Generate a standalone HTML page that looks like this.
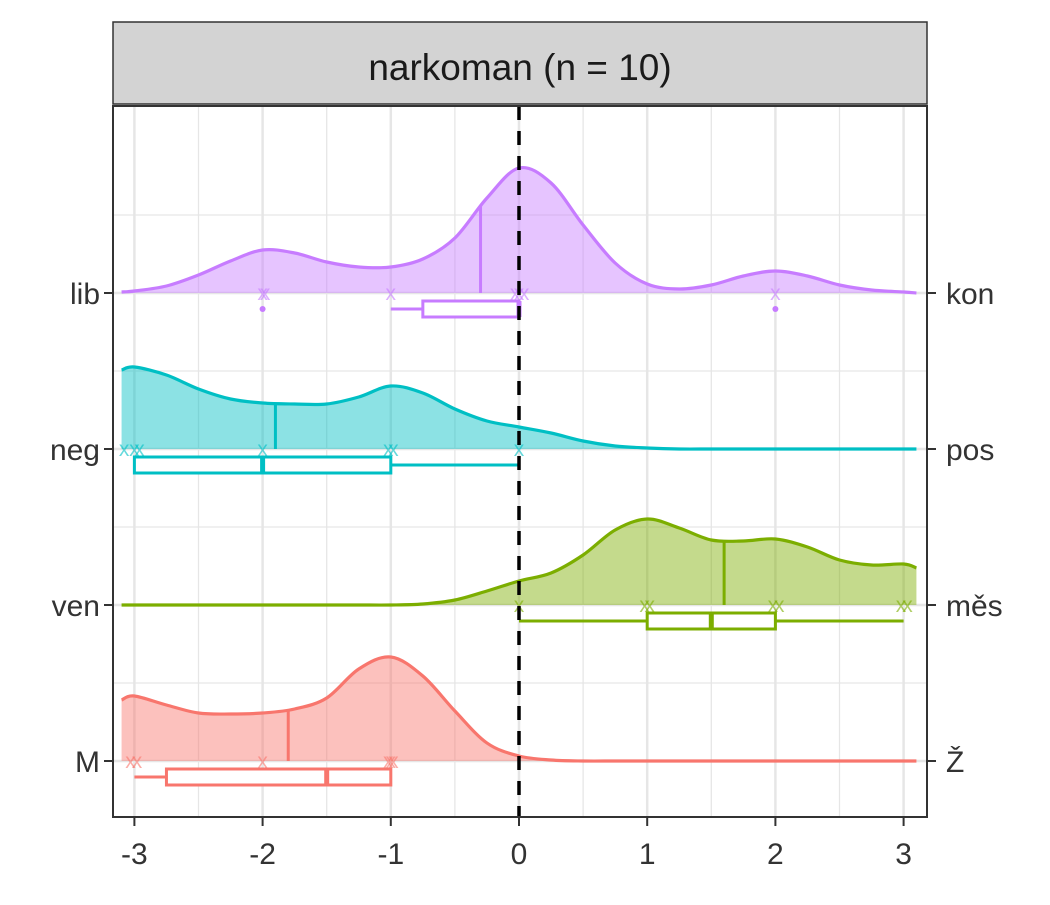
<!DOCTYPE html>
<html><head><meta charset="utf-8"><style>
body{margin:0;background:#fff;}
text{font-family:"Liberation Sans",sans-serif;}
</style></head><body>
<svg id="chart" width="1050" height="900" viewBox="0 0 1050 900" xmlns="http://www.w3.org/2000/svg">
<rect x="113" y="22" width="814" height="82" fill="#d3d3d3" stroke="#333" stroke-width="1.5"/>
<text x="520" y="80" font-size="37" text-anchor="middle" fill="#1a1a1a">narkoman (n = 10)</text>
<g id="grid"></g>
<g id="marks"></g>
<rect x="113" y="106" width="814" height="711" fill="none" stroke="#333" stroke-width="2"/>
<g id="axes"></g>
</svg>
<script>
const xsGrid = [-3.1,-3,-2.75,-2.5,-2.25,-2,-1.75,-1.5,-1.25,-1,-0.75,-0.5,-0.25,0,0.25,0.5,0.75,1,1.25,1.5,1.75,2,2.25,2.5,2.75,3,3.1];
const categoriesLeft = ["M","ven","neg","lib"];
const categoriesRight = ["Ž","měs","pos","kon"];
const colors = ["#F8766D","#7CAE00","#00BFC4","#C77CFF"];
const densM   = [61,65,56,48,47,48,52,63,92,104,85,50,18,5,1,0,0,0,0,0,0,0,0,0,0,0,0];
const densVen = [0,0,0,0,0,0,0,0,0,0,1,5,14,24,32,50,75,86,77,65,64,66,58,45,40,41,37];
const densNeg = [79,82,74,60,50,46,45,45,52,63,56,40,28,22,16,8,3,1,0,0,0,0,0,0,0,0,0];
const densLib = [1,2,7,18,32,43,40,31,26,26,34,55,95,125,110,68,30,9,4,8,17,22,17,8,3,1,0];
const densities = [densM,densVen,densNeg,densLib];
const medians = [-1.8,1.6,-1.9,-0.3];
const boxLow = [-2.75,1,-3,-0.75];
const boxMid = [-1.5,1.5,-2,0];
const boxHigh = [-1,2,-1,0];
const whiskLow = [-3,0,-3,-1];
const whiskHigh = [-1,3,0,0];
const outliers = [[],[],[],[-2,2]];
const pointsM = [-3.03,-2.98,-2,-1.02,-0.98,-1];
const pointsVen = [0,0.98,1.02,1.98,2.03,2.98,3.03];
const pointsNeg = [-3.08,-3,-2.96,-2,-1.02,-0.98,0];
const pointsLib = [-2,-1.98,-1,-0.03,0,0.04,2];
const points = [pointsM,pointsVen,pointsNeg,pointsLib];
const xTicks = [-3,-2,-1,0,1,2,3];

const NS="http://www.w3.org/2000/svg";
const X = v => 519 + v*128.2;
const Y = i => 761 - i*156;
function mk(tag, attrs, parent){const e=document.createElementNS(NS,tag);for(const k in attrs)e.setAttribute(k,attrs[k]);parent.appendChild(e);return e;}
const grid=document.getElementById('grid'), marks=document.getElementById('marks'), axes=document.getElementById('axes');
mk('rect',{x:113,y:106,width:814,height:711,fill:'#fff'},grid);
for(let v=-3;v<=3.01;v+=0.5){const l=mk('line',{x1:X(v),x2:X(v),y1:106,y2:817,stroke:'#e6e6e6','stroke-width':Number.isInteger(v)?2.5:1.3},grid);}
for(let i=-0.5;i<=3.51;i+=0.5){const y=Y(i);if(y<106||y>817)continue;const l=mk('line',{x1:113,x2:927,y1:y,y2:y,stroke:'#e6e6e6','stroke-width':Number.isInteger(i)?2.5:1.3},grid);}
function catmull(pts){let d=`M${pts[0][0]},${pts[0][1]}`;for(let i=0;i<pts.length-1;i++){const p0=pts[Math.max(0,i-1)],p1=pts[i],p2=pts[i+1],p3=pts[Math.min(pts.length-1,i+2)];d+=` C${p1[0]+(p2[0]-p0[0])/6},${p1[1]+(p2[1]-p0[1])/6} ${p2[0]-(p3[0]-p1[0])/6},${p2[1]-(p3[1]-p1[1])/6} ${p2[0]},${p2[1]}`;}return d;}
function interp(arr,v){for(let i=0;i<xsGrid.length-1;i++){if(v>=xsGrid[i]&&v<=xsGrid[i+1]){const t=(v-xsGrid[i])/(xsGrid[i+1]-xsGrid[i]);return arr[i]+t*(arr[i+1]-arr[i]);}}return 0;}
densities.forEach((d,i)=>{
  const base=Y(i), c=colors[i];
  const pts=xsGrid.map((x,k)=>[X(x),base-d[k]]);
  const line=catmull(pts);
  const a=mk('path',{d:line+` L${X(3.1)},${base} L${X(-3.1)},${base} Z`,fill:c,'fill-opacity':0.45,stroke:'none'},marks);
  
  const l=mk('path',{d:line,fill:'none',stroke:c,'stroke-width':3.2},marks);
  
  const m=mk('line',{x1:X(medians[i]),x2:X(medians[i]),y1:base,y2:base-interp(d,medians[i]),stroke:c,'stroke-width':3},marks);
  
  points[i].forEach(p=>{const t=mk('text',{x:X(p),y:base+7,'font-size':21,'text-anchor':'middle',fill:c,'fill-opacity':0.6},marks);t.textContent='x';});
  const by=base+16;
  const w=mk('line',{x1:X(whiskLow[i]),x2:X(whiskHigh[i]),y1:by,y2:by,stroke:c,'stroke-width':3},marks);
  
  const b=mk('rect',{x:X(boxLow[i]),y:by-8,width:Math.max(1,X(boxHigh[i])-X(boxLow[i])),height:16,fill:'#fff',stroke:c,'stroke-width':3},marks);
  
  const bm=mk('line',{x1:X(boxMid[i]),x2:X(boxMid[i]),y1:by-8,y2:by+8,stroke:c,'stroke-width':5},marks);
  
  outliers[i].forEach(o=>{const ci=mk('circle',{cx:X(o),cy:by,r:3,fill:c},marks);});
});
const zl=mk('line',{x1:X(0),x2:X(0),y1:106,y2:817,stroke:'#000','stroke-width':3.5,'stroke-dasharray':'14 11'},marks);

xTicks.forEach(v=>{mk('line',{x1:X(v),x2:X(v),y1:817,y2:826,stroke:'#333','stroke-width':2},axes);
  const t=mk('text',{x:X(v),y:864,'font-size':30,'text-anchor':'middle',fill:'#333'},axes);t.textContent=v;});
categoriesLeft.forEach((c,i)=>{const y=Y(i);
  mk('line',{x1:104,x2:113,y1:y,y2:y,stroke:'#333','stroke-width':2},axes);
  mk('line',{x1:927,x2:936,y1:y,y2:y,stroke:'#333','stroke-width':2},axes);
  const t=mk('text',{x:100,y:y+11,'font-size':30,'text-anchor':'end',fill:'#333'},axes);t.textContent=c;
  const r=mk('text',{x:946,y:y+11,'font-size':30,fill:'#333'},axes);r.textContent=categoriesRight[i];
});
</script>
</body></html>
